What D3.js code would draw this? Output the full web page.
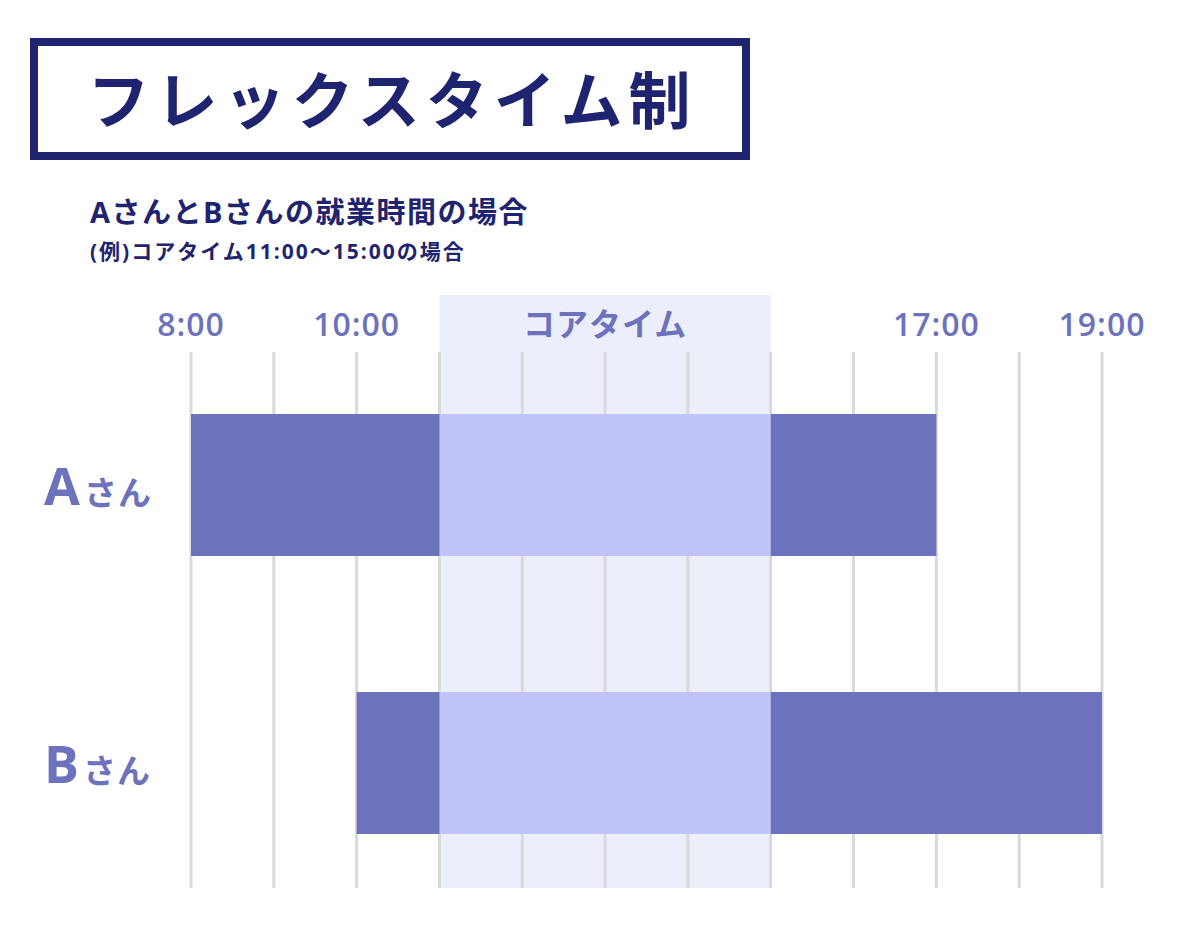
<!DOCTYPE html>
<html><head><meta charset="utf-8">
<script src="https://cdn.jsdelivr.net/npm/d3@7"></script>
<style>body{margin:0;background:#fff}text{font-family:"Open Sans","Noto Sans CJK JP",sans-serif}</style>
</head><body><svg id="chart" width="1200" height="930"></svg>
<script>
const people = ["Aさん", "Bさん"];
const startHours = [8, 10];
const endHours = [17, 19];
const coreTime = [11, 15];
const tickLabels = [
  {hour: 8, label: "8:00"},
  {hour: 10, label: "10:00"},
  {hour: 13, label: "コアタイム"},
  {hour: 17, label: "17:00"},
  {hour: 19, label: "19:00"}
];

const svg = d3.select("#chart");
const navy = "#1f2470", dark = "#6c72bc", light = "#c1c4f6", band = "#eceefc";

const x = d3.scaleLinear().domain([8, 19]).range([191, 1102]);
// row layout: bar height 142, rows 278 apart
const rowY = d3.scalePoint().domain(people).range([414, 692]);
const barH = 142;

// title box
svg.append("rect").attr("x", 34).attr("y", 42).attr("width", 712).attr("height", 114)
  .attr("fill", "none").attr("stroke", navy).attr("stroke-width", 8);
svg.append("text").attr("x", 392).attr("y", 124).attr("text-anchor", "middle")
  .attr("font-size", 62).attr("font-weight", 700).attr("fill", navy).attr("letter-spacing", 6)
  .text("フレックスタイム制");
svg.append("text").attr("x", 90).attr("y", 223).attr("font-size", 29).attr("font-weight", 700)
  .attr("fill", navy).attr("letter-spacing", 1.5).text("AさんとBさんの就業時間の場合");
svg.append("text").attr("x", 90).attr("y", 259).attr("font-size", 21).attr("font-weight", 700)
  .attr("fill", navy).attr("letter-spacing", 2).text("(例)コアタイム11:00〜15:00の場合");

// core band
svg.append("rect").attr("x", x(coreTime[0])).attr("y", 295)
  .attr("width", x(coreTime[1]) - x(coreTime[0])).attr("height", 593).attr("fill", band);

// grid
svg.append("g").selectAll("line").data(d3.range(8, 20)).join("line")
  .attr("x1", d => x(d)).attr("x2", d => x(d)).attr("y1", 352).attr("y2", 888)
  .attr("stroke", "#d9d9d9").attr("stroke-width", 3);

// tick labels
svg.append("g").selectAll("text").data(tickLabels).join("text")
  .attr("x", d => x(d.hour)).attr("y", 336).attr("text-anchor", "middle")
  .attr("font-size", 32).attr("font-weight", 600).attr("letter-spacing", 1).attr("fill", dark).text(d => d.label);

// bars
people.forEach((p, i) => {
  const g = svg.append("g");
  g.append("rect").attr("x", x(startHours[i])).attr("y", rowY(p))
    .attr("width", x(endHours[i]) - x(startHours[i])).attr("height", barH).attr("fill", dark);
  g.append("rect").attr("x", x(coreTime[0])).attr("y", rowY(p))
    .attr("width", x(coreTime[1]) - x(coreTime[0])).attr("height", barH).attr("fill", light);
  const t = svg.append("text").attr("x", 44).attr("y", rowY(p) + barH / 2 + 20).attr("fill", dark).attr("font-weight", 700);
  t.append("tspan").attr("font-size", 52).text(p[0]);
  t.append("tspan").attr("font-size", 33).attr("dx", 4).attr("letter-spacing", 1).text(p.slice(1));
});
</script></body></html>
